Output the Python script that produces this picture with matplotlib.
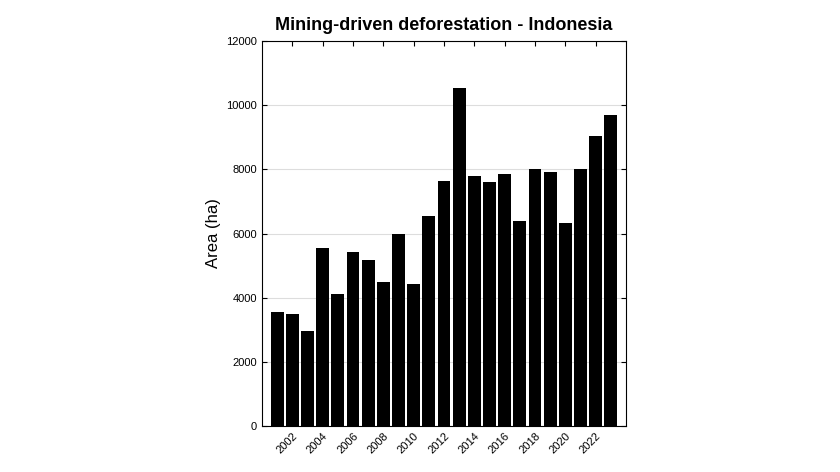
import matplotlib
matplotlib.use("Agg")
import matplotlib.pyplot as plt

plt.rcParams['font.family'] = ['Liberation Sans', 'DejaVu Sans']

years = list(range(2001, 2024))
area = [3550, 3500, 2950, 5550, 4100, 5420, 5180, 4500, 6000, 4420, 6530, 7650,
        10520, 7780, 7600, 7870, 6400, 8000, 7930, 6320, 8000, 9040, 9680]
tick_years = list(range(2002, 2023, 2))

fig = plt.figure(figsize=(8.4, 4.72), dpi=100)
ax = fig.add_axes([262/840, 1-426/472, (626-262)/840, (426-41)/472])

ax.set_axisbelow(True)
ax.yaxis.grid(True, color='#dddddd', linewidth=0.8)
ax.bar(years, area, width=0.85, color='black')

ax.set_xlim(2000.0, 2024.0)
ax.set_ylim(0, 12000)
ax.set_yticks(range(0, 12001, 2000))
ax.set_xticks(tick_years)
ax.set_xticklabels([str(y) for y in tick_years], rotation=45, ha='right',
                   rotation_mode='anchor', fontsize=8)
ax.tick_params(axis='y', labelsize=8, direction='in')
ax.tick_params(axis='x', direction='in')
ax.tick_params(top=True, right=True)
ax.set_ylabel('Area (ha)', fontsize=12)
ax.set_title('Mining-driven deforestation - Indonesia', fontsize=13,
             fontweight='bold', pad=8)

fig.savefig('out.png', dpi=100)
